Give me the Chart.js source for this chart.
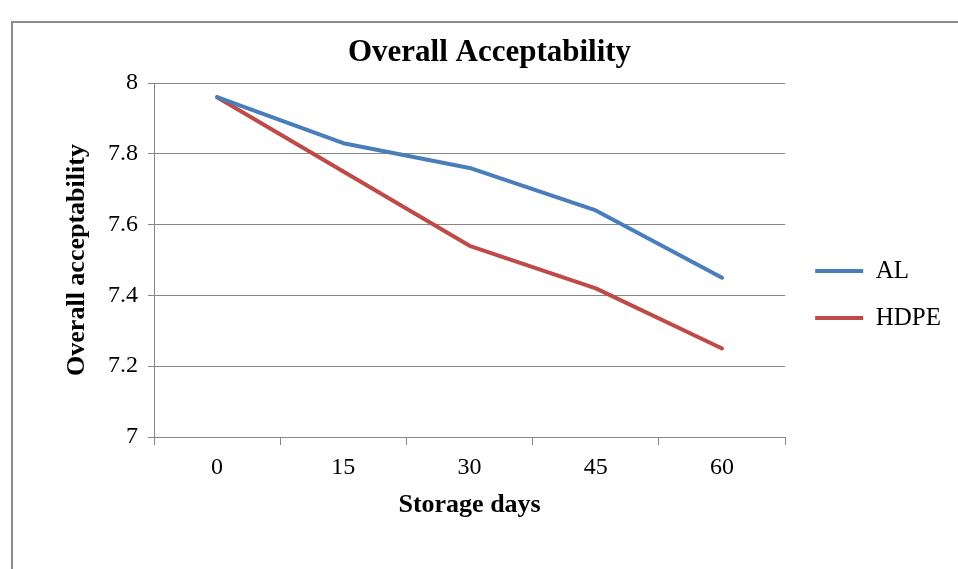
<!DOCTYPE html>
<html>
<head>
<meta charset="utf-8">
<script src="https://cdn.jsdelivr.net/npm/chart.js@4/dist/chart.umd.min.js"></script>
<style>
  html, body { margin: 0; padding: 0; background: #fff; overflow: hidden; }
  #wrap { position: relative; width: 958px; height: 569px; }
  #frame { position: absolute; left: 11px; top: 21px; width: 980px; height: 600px; border: 2px solid #8c8c8c; }
  #chart { position: absolute; left: 0; top: 0; }
</style>
</head>
<body>
<div id="wrap">
  <div id="frame"></div>
  <canvas id="chart" width="958" height="569"></canvas>
</div>
<script>
// 数据
const storageDays = ['0', '15', '30', '45', '60'];
const alValues = [7.96, 7.83, 7.76, 7.64, 7.45];
const hdpeValues = [7.96, 7.75, 7.54, 7.42, 7.25];
const seriesNames = ['AL', 'HDPE'];
const seriesColors = ['#4a7ebb', '#be4b48'];

const serif = 'Liberation Serif, Times New Roman, serif';
const gridGray = '#868686';

function lineSet(name, values, color) {
    return {
        label: name,
        data: values,
        borderColor: color,
        backgroundColor: color,
        borderWidth: 4,
        borderCapStyle: 'round',
        borderJoinStyle: 'round',
        pointRadius: 0,
        tension: 0
    };
}

const ctx = document.getElementById('chart').getContext('2d');
new Chart(ctx, {
    type: 'line',
    data: {
        labels: storageDays,
        datasets: [
            lineSet(seriesNames[0], alValues, seriesColors[0]),
            lineSet(seriesNames[1], hdpeValues, seriesColors[1])
        ]
    },
    options: {
        responsive: false,
        animation: false,
        devicePixelRatio: 1,
        layout: {
            padding: { left: 34, right: 13, top: 22, bottom: 40 }
        },
        plugins: {
            title: {
                display: true,
                text: 'Overall Acceptability',
                color: '#000',
                font: { family: serif, size: 31, weight: 'bold', lineHeight: 1.2 },
                padding: { top: 12, bottom: 11.8 }
            },
            legend: {
                position: 'right',
                fullSize: false,
                title: {
                    display: true,
                    text: ' ',
                    font: { size: 10, lineHeight: 1 },
                    padding: { top: 59, bottom: 0 }
                },
                labels: {
                    color: '#000',
                    font: { family: serif, size: 25 },
                    usePointStyle: true,
                    pointStyle: 'line',
                    pointStyleWidth: 48,
                    padding: 22
                }
            },
            tooltip: { enabled: false }
        },
        scales: {
            x: {
                offset: true,
                afterFit: (s) => { s.height = 92; },
                grid: {
                    offset: true,
                    drawOnChartArea: false,
                    drawTicks: true,
                    tickLength: 8,
                    color: gridGray
                },
                border: { display: true, color: gridGray, width: 1 },
                ticks: {
                    color: '#000',
                    padding: 8.6,
                    font: { family: serif, size: 24 }
                },
                title: {
                    display: true,
                    text: 'Storage days',
                    color: '#000',
                    font: { family: serif, size: 26, weight: 'bold', lineHeight: 1.2 },
                    padding: { top: 0, bottom: 8.4 }
                }
            },
            y: {
                min: 7,
                max: 8,
                afterFit: (s) => { s.width = 120; },
                grid: {
                    color: gridGray,
                    lineWidth: 1,
                    drawTicks: true,
                    tickLength: 6
                },
                border: { display: true, color: gridGray, width: 1 },
                ticks: {
                    stepSize: 0.2,
                    color: '#000',
                    padding: 10,
                    font: { family: serif, size: 24 },
                    callback: (v) => String(Number(v.toFixed(1)))
                },
                title: {
                    display: true,
                    text: 'Overall acceptability',
                    color: '#000',
                    font: { family: serif, size: 26, weight: 'bold', lineHeight: 1.2 },
                    padding: { top: 28, bottom: 0 }
                }
            },
            // 右侧空白间隔，让图例离绘图区远一点
            gap: {
                type: 'linear',
                position: 'right',
                display: true,
                afterFit: (s) => { s.width = 8; },
                grid: { display: false },
                border: { display: false },
                ticks: { display: false }
            }
        }
    }
});
</script>
</body>
</html>
